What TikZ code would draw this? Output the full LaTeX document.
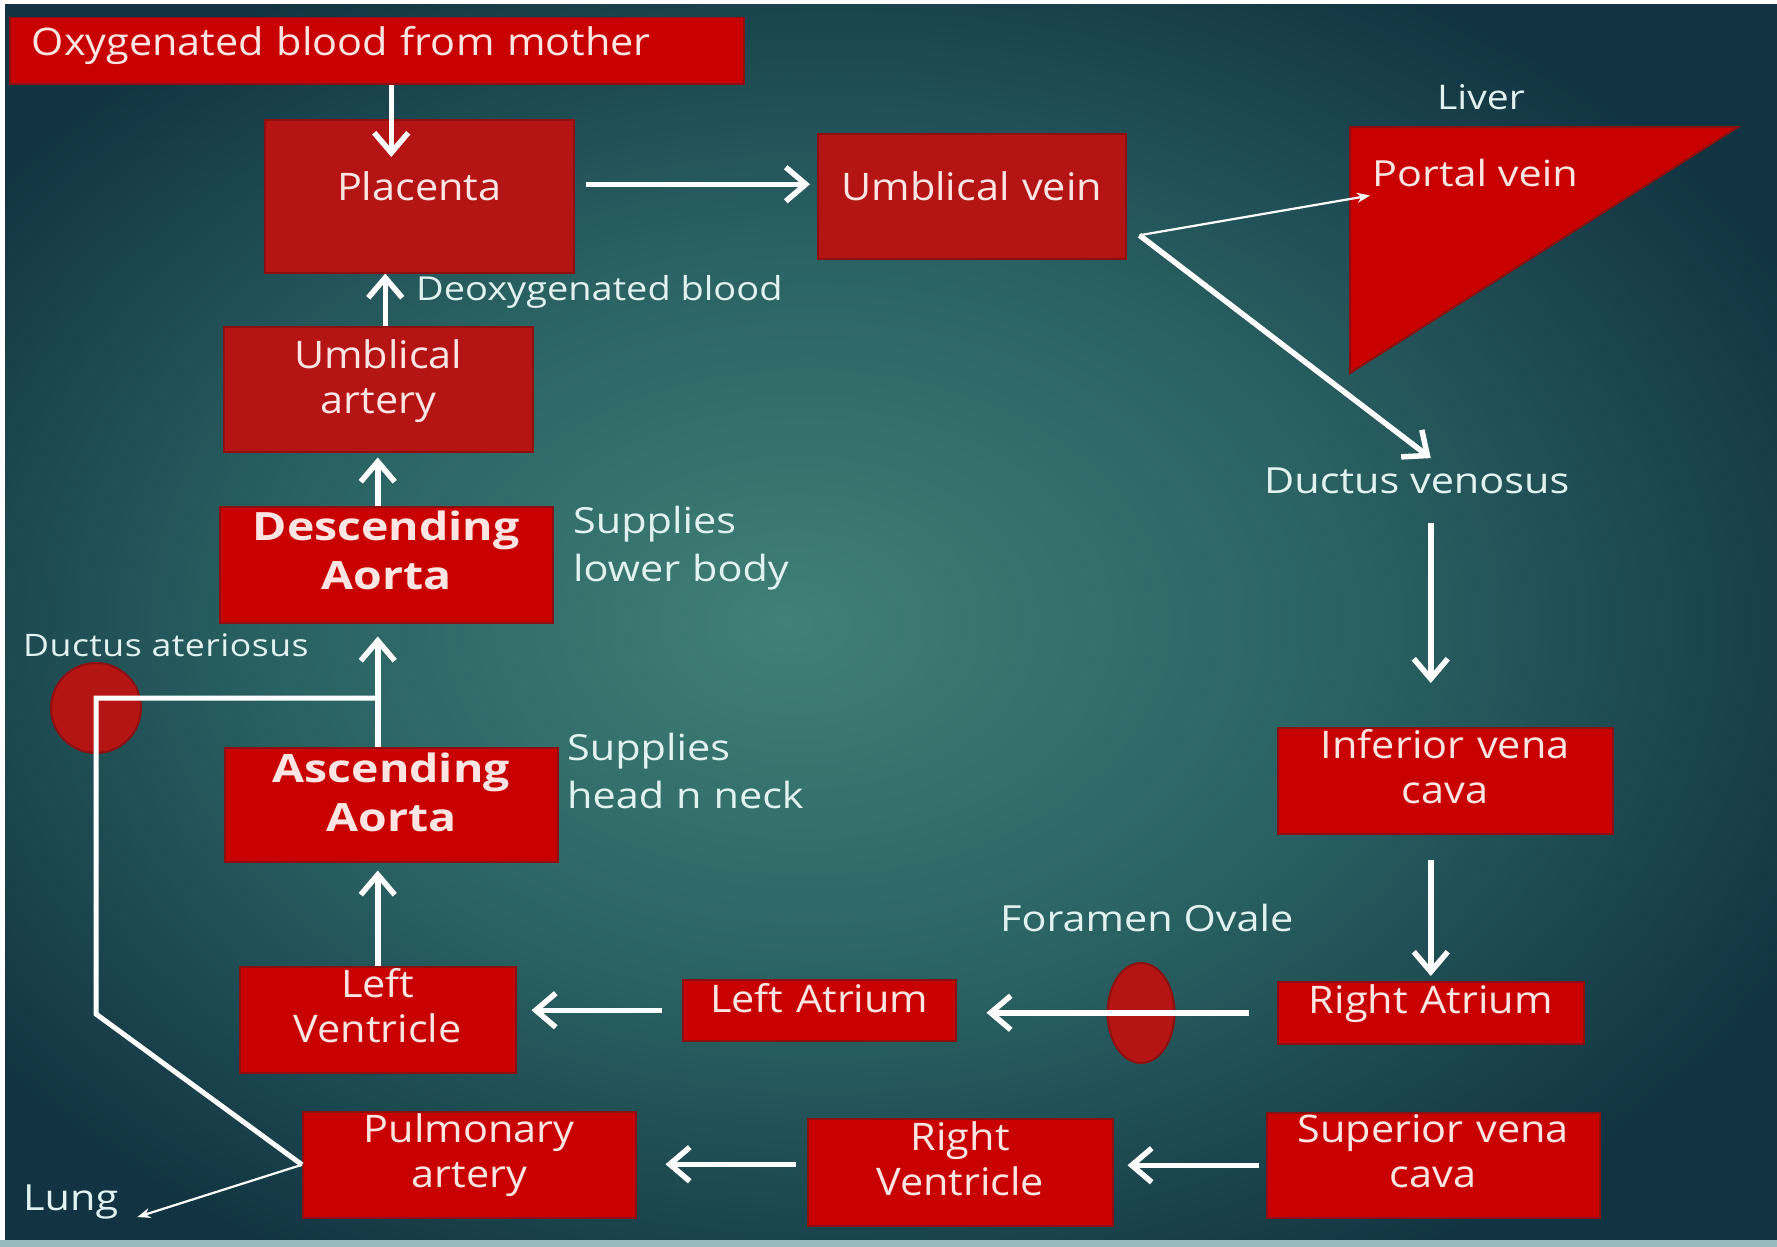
\documentclass[tikz,border=0pt]{standalone}
\usepackage{fontspec}
\setmainfont{Open Sans}
\newfontfamily\organface{Open Sans}[FakeStretch=1.09]
\newfontfamily\noteface{Open Sans}[FakeStretch=1.15]
\newfontfamily\aortaface{Open Sans}[FakeStretch=1.19]
\usetikzlibrary{arrows.meta,shapes.geometric}
\definecolor{bglight}{RGB}{64,128,118}
\definecolor{bgmid}{RGB}{42,98,99}
\definecolor{bgdark}{RGB}{18,52,66}
\definecolor{bgline}{RGB}{150,186,190}
\definecolor{organred}{RGB}{200,0,0}
\definecolor{organdark}{RGB}{180,20,20}
\definecolor{organedge}{RGB}{140,16,16}
\definecolor{organtext}{RGB}{255,228,228}
\definecolor{notetext}{RGB}{226,242,240}
\pgfdeclareradialshading{glow}{\pgfpoint{-3bp}{0bp}}{color(0bp)=(bglight); color(15bp)=(bgmid); color(30bp)=(bgdark); color(50bp)=(bgdark)}
\newcommand\organfont{\organface\fontsize{38}{45}\selectfont}
\newcommand\aortafont{\aortaface\fontsize{39}{49}\selectfont\bfseries}
\newcommand\notefont{\noteface\fontsize{36}{48}\selectfont}
\newcommand\smallnote{\noteface\fontsize{33}{40}\selectfont}
\tikzset{
	>={Straight Barb[length=20pt,width=34pt]},
	x=1pt, y=-1pt,
}

\begin{document}
\begin{tikzpicture}[
		organ/.style={draw=organedge, line width=1.5pt, fill=organred, text=organtext,
				font=\organfont, align=center, inner sep=0pt, anchor=north west},
		dark/.style={fill=organdark},
		note/.style={text=notetext, font=\notefont, align=left, inner sep=0pt, anchor=base west},
		flow/.style={->, draw=white, line width=5.5pt},
		thin/.style={-{Stealth[length=13pt,width=10pt]}, draw=white, line width=2.2pt},
		shunt/.style={draw=white, line width=5pt},
		valve/.style={draw=organedge, line width=2pt, fill=organdark},
		liver/.style={draw=organedge, line width=2pt, fill=organred, line join=miter},
	]
	% background
	\useasboundingbox (0,0) rectangle (1777,1247);
	\fill[white] (0,0) rectangle (1777,1247);
	\shade[shading=glow] (5,5) rectangle (1777,1240);
	\fill[bgline] (0,1240) rectangle (1777,1247);

	% organs
	\node[organ, text width=690pt, inner xsep=22pt, align=left, text height=38pt, text depth=28pt] (mother) at (9,17) {Oxygenated blood from mother};
	\node[organ, dark, text width=309pt, text height=81pt, text depth=72pt] (placenta) at (264,119) {Placenta};
	\node[organ, dark, text width=308pt, text height=67pt, text depth=58pt] (uvein) at (817,133) {Umblical vein};
	\node[organ, dark, text width=309pt, text height=42pt, text depth=83pt] (uartery) at (223,326) {Umblical\\artery};
	\node[organ, font=\aortafont, text width=333pt, text height=34pt, text depth=82pt] (desc) at (219,506) {Descending\\Aorta};
	\node[organ, font=\aortafont, text width=333pt, text height=35pt, text depth=79pt] (asc) at (224,747) {Ascending\\Aorta};
	\node[organ, text width=276pt, text height=31pt, text depth=75pt] (lventricle) at (239,966) {Left\\Ventricle};
	\node[organ, text width=333pt, text height=31pt, text depth=75pt] (partery) at (302,1111) {Pulmonary\\artery};
	\node[organ, text width=305pt, text height=32pt, text depth=75pt] (rventricle) at (807,1118) {Right\\Ventricle};
	\node[organ, text width=333pt, text height=30pt, text depth=75pt] (svc) at (1266,1112) {Superior vena\\cava};
	\node[organ, text width=335pt, text height=31pt, text depth=75pt] (ivc) at (1277,727) {Inferior vena\\cava};
	\node[organ, text width=306pt, text height=32pt, text depth=30pt] (ratrium) at (1277,981) {Right Atrium};
	\node[organ, text width=273pt, text height=33pt, text depth=28pt] (latrium) at (682,979) {Left Atrium};

	% liver and shunts
	\draw[liver] (1350,127) -- (1738,127) -- (1350,373) -- cycle;
	\node[valve, circle, minimum size=90pt] (arteriosus) at (96,708) {};
	\node[valve, ellipse, minimum width=67pt, minimum height=100pt] (ovale) at (1141,1013) {};

	% notes
	\node[note, anchor=base, font=\noteface\fontsize{34}{40}\selectfont] (liverlabel) at (1481,109) {Liver};
	\node[note, text=organtext] (portal) at (1372,186) {Portal vein};
	\node[note] (dvenosus) at (1264,493) {Ductus venosus};
	\node[note] (ovalelabel) at (1000,931) {Foramen Ovale};
	\node[note, text width=330pt] (lowerbody) at (573,533) {Supplies\\lower body};
	\node[note, text width=330pt] (headneck) at (567,760) {Supplies\\head n neck};
	\node[note, font=\smallnote] (deoxy) at (416,300) {Deoxygenated blood};
	\node[note, font={\noteface\fontsize{31}{36}\selectfont\addfontfeatures{LetterSpace=1.5}}] (arteriosuslabel) at (23,656) {Ductus ateriosus};
	\node[note] (lung) at (23,1210) {Lung};

	% blood flow
	\coordinate (fork) at ([shift={(13,39)}]uvein.east);
	\coordinate (bend) at (96,1014);
	\coordinate (shunttop) at (96,698);
	\draw[flow, shorten >=-38pt] ([xshift=-28pt]placenta.north |- mother.south) -- ([xshift=-28pt]placenta.north);
	\draw[flow, shorten <=11pt, shorten >=7pt] ([yshift=12pt]placenta.east) -- ([yshift=12pt]placenta.east -| uvein.west);
	\draw[thin] (fork) -- ([shift={(-2,9)}]portal.south west);
	\draw[flow] (fork) -- ([yshift=9pt]dvenosus.north -| ratrium.north);
	\draw[flow, shorten <=29pt, shorten >=44pt] (ratrium.north |- dvenosus.south) -- (ratrium.north |- ivc.north);
	\draw[flow, shorten <=25pt, shorten >=5pt] (ratrium.north |- ivc.south) -- (ratrium.north);
	\draw[flow, shorten <=28pt, shorten >=30pt] (ratrium.west) -- (ratrium.west -| latrium.east);
	\draw[flow, shorten <=20pt, shorten >=15pt] (latrium.west) -- (latrium.west -| lventricle.east);
	\draw[flow, shorten >=8pt] (lventricle.north) -- (lventricle.north |- asc.south);
	\draw[flow, shorten >=13pt] (lventricle.north |- asc.north) -- (lventricle.north |- desc.south);
	\draw[flow, shorten >=5pt] (lventricle.north |- desc.north) -- (lventricle.north |- uartery.south);
	\draw[flow] ([xshift=7pt]uartery.north) -- ([xshift=7pt]uartery.north |- placenta.south);
	\draw[flow, shorten <=7pt, shorten >=14pt] (svc.west) -- (svc.west -| rventricle.east);
	\draw[flow, shorten <=11pt, shorten >=29pt] ([yshift=8pt]rventricle.west) -- ([yshift=8pt]rventricle.west -| partery.east);
	\draw[shunt] (partery.west) -- (bend) -- (shunttop) -- (shunttop -| lventricle.north);
	\draw[thin] (partery.west) -- ([shift={(19,7)}]lung.base east);
\end{tikzpicture}
\end{document}
